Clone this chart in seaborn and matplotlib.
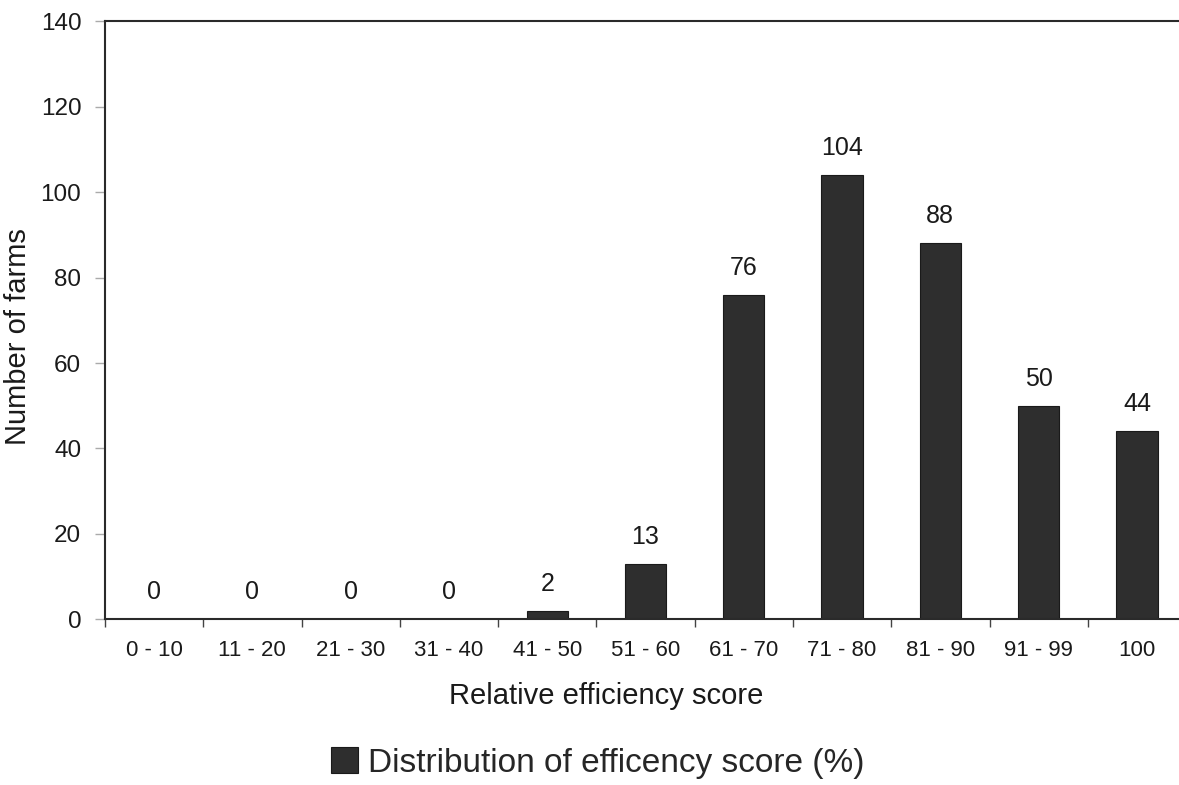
import numpy as np
import matplotlib
matplotlib.use('Agg')
import matplotlib.pyplot as plt
import seaborn as sns

# Data
categories = ['0 - 10', '11 - 20', '21 - 30', '31 - 40', '41 - 50', '51 - 60',
              '61 - 70', '71 - 80', '81 - 90', '91 - 99', '100']
farms = [0, 0, 0, 0, 2, 13, 76, 104, 88, 50, 44]
series_label = 'Distribution of efficency score (%)'

sns.set_theme(style='white')
plt.rcParams['font.family'] = ['Liberation Sans', 'DejaVu Sans']

fig = plt.figure(figsize=(11.79, 7.85), dpi=100)
# axes run slightly past the right edge, as in the source image
ax = fig.add_axes([0.089, 0.211, 0.917, 0.762])

sns.barplot(x=categories, y=farms, color='#2e2e2e', width=0.42,
            saturation=1, edgecolor='#1a1a1a', linewidth=0.8,
            label=series_label, ax=ax)

# value labels above the bars
for i, v in enumerate(farms):
    ax.text(i, v + 3.5, str(v), ha='center', va='bottom', fontsize=18, color='#1a1a1a')

ax.set_ylim(0, 140)
ax.set_xlim(-0.5, len(categories) - 0.5)
ax.set_yticks(range(0, 141, 20))

# ticks between categories
ax.set_xticks(np.arange(-0.5, len(categories), 1), minor=True)
ax.tick_params(axis='x', which='major', length=0, pad=15, labelsize=16, labelcolor='#1a1a1a')
ax.tick_params(axis='x', which='minor', length=6, width=1, color='#444444', direction='out', bottom=True)
ax.tick_params(axis='y', length=7, width=1, color='#aaaaaa', direction='out', left=True,
               labelsize=17.5, labelcolor='#1a1a1a', pad=10)

for s in ['left', 'bottom', 'top']:
    ax.spines[s].set_color('#2a2a2a')
    ax.spines[s].set_linewidth(1.5)
ax.spines['right'].set_visible(False)

ax.set_xlabel('Relative efficiency score', fontsize=21, color='#1a1a1a')
ax.xaxis.set_label_coords(0.4636, -0.105)
ax.set_ylabel('Number of farms', fontsize=21, color='#1a1a1a')
ax.yaxis.set_label_coords(-0.067, 0.473)

if ax.legend_:
    ax.legend_.remove()
handles, labels = ax.get_legend_handles_labels()
fig.legend(handles, labels, loc='lower center', bbox_to_anchor=(0.507, -0.03),
           frameon=False, fontsize=24, handlelength=0.8, handleheight=0.8,
           handletextpad=0.3)

fig.savefig('out.png', dpi=100)
